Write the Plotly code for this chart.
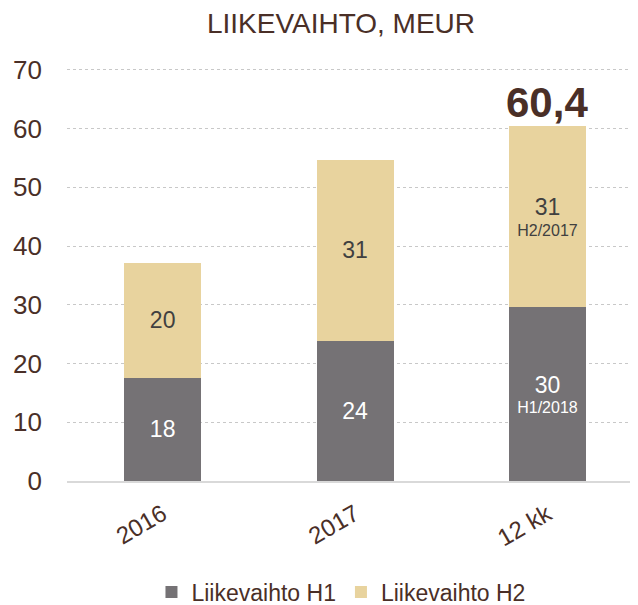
import plotly.graph_objects as go

categories = ["2016", "2017", "12 kk"]
h1_values = [17.6, 23.9, 29.6]
h2_values = [19.5, 30.8, 30.8]
h1_labels = ["18", "24", "30"]
h2_labels = ["20", "31", "31"]
h1_sub = ["", "", "H1/2018"]
h2_sub = ["", "", "H2/2017"]
total_label = "60,4"

FONT = "Liberation Sans, Arial, sans-serif"
BROWN = "#4a2f27"

# page has an 8px default body margin; figure sized to fit inside the window
W, H = 630, 597

def make_text(main, sub):
    out = []
    for m, s in zip(main, sub):
        t = f"<span style='font-size:23px'>{m}</span>"
        if s:
            t += f"<br>{s}"
        out.append(t)
    return out

fig = go.Figure()
fig.add_trace(go.Bar(
    x=categories, y=h1_values, name="Liikevaihto H1",
    marker=dict(color="#757275", line=dict(width=0)),
    text=make_text(h1_labels, h1_sub), textposition="inside",
    insidetextanchor="middle", textangle=0,
    textfont=dict(family=FONT, size=16, color="white"),
    width=0.4, hoverinfo="skip",
))
fig.add_trace(go.Bar(
    x=categories, y=h2_values, name="Liikevaihto H2",
    marker=dict(color="#e8d39e", line=dict(width=0)),
    text=make_text(h2_labels, h2_sub), textposition="inside",
    insidetextanchor="middle", textangle=0,
    textfont=dict(family=FONT, size=16, color="#404040"),
    width=0.4, hoverinfo="skip",
))

totals = [a + b for a, b in zip(h1_values, h2_values)]
fig.add_annotation(
    x=categories[2], y=totals[2], text=f"<b>{total_label}</b>",
    showarrow=False, yanchor="bottom", yshift=-2,
    font=dict(family=FONT, size=42, color=BROWN),
)

fig.update_layout(
    width=W, height=H,
    barmode="stack",
    paper_bgcolor="white", plot_bgcolor="white",
    margin=dict(l=59, r=2, t=59, b=124, autoexpand=False),
    title=dict(text="LIIKEVAIHTO, MEUR", x=333 / W, xref="container", xanchor="center",
               y=1 - 15 / H, yref="container", yanchor="middle",
               font=dict(family=FONT, size=28, color=BROWN)),
    font=dict(family=FONT, color=BROWN),
    showlegend=True,
    legend=dict(orientation="h", x=0.4815, xanchor="center", y=-0.268, yanchor="middle",
                font=dict(family=FONT, size=23, color=BROWN), traceorder="normal",
                itemwidth=30),
    hovermode=False,
)
fig.update_xaxes(
    type="category", range=[-0.497, 2.46], automargin=False,
    showline=True, linecolor="#d9d9d9", linewidth=2,
    showgrid=False, ticks="", tickangle=-30,
    tickfont=dict(family=FONT, size=24, color=BROWN),
    ticklabelstandoff=8,
)
fig.update_yaxes(
    range=[0, 70.5], tickvals=[0, 10, 20, 30, 40, 50, 60, 70], automargin=False,
    showgrid=True, gridcolor="#c8c8c8",
    griddash="dot", gridwidth=1, zeroline=False, showline=False,
    ticks="", tickfont=dict(family=FONT, size=26, color=BROWN),
    ticklabelstandoff=24,
)

fig.write_html("out.html")
